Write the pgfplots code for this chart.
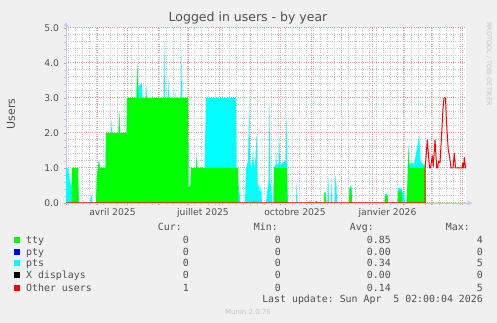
\documentclass[border=0pt]{standalone}
\usepackage{fontspec}
\setmainfont{DejaVu Sans}
\newfontfamily\mono{DejaVu Sans Mono}
\usepackage{pgfplots}
\pgfplotsset{compat=1.18}
\usetikzlibrary{arrows.meta}
\definecolor{bg}{HTML}{F0F0F0}
\definecolor{txt}{HTML}{505050}
\definecolor{faint}{HTML}{C4C4C4}
\definecolor{gridred}{HTML}{E89494}
\definecolor{gridgrey}{HTML}{C6C6C6}
\definecolor{axisblue}{HTML}{C0C8F0}
\definecolor{ttyc}{HTML}{00FF00}
\definecolor{ptyc}{HTML}{0000FF}
\definecolor{ptsc}{HTML}{00FFFF}
\definecolor{xc}{HTML}{000000}
\definecolor{otherc}{HTML}{FF0000}
\begin{document}
\begin{tikzpicture}
\useasboundingbox (0,0) rectangle (497pt,323pt);
\fill[bg] (0,0) rectangle (497pt,323pt);
\begin{axis}[
  at={(66pt,120pt)}, anchor=south west,
  scale only axis, width=400pt, height=175pt,
  xmin=0, xmax=400, ymin=0, ymax=5,
  axis lines=left,
  axis line style={draw=axisblue, line width=0.8pt, -{Stealth[length=5pt,width=5pt]}, shorten >=-6pt},
  axis background/.style={fill=white},
  xtick={0,31,61,92,122,153,184,214,245,275,306,337,365,396},
  xticklabels={},
  minor xtick={2,9,...,400},
  ytick={0,1,2,3,4,5},
  minor ytick={0.2,0.4,...,4.9},
  grid=both,
  major grid style={draw=gridred, line width=1pt, dash pattern=on 1pt off 1.2pt},
  minor grid style={draw=gridgrey, line width=1pt, dash pattern=on 1pt off 1.2pt},
  tick align=outside,
  major tick length=2.5pt, minor tick length=2pt,
  major tick style={draw=gridred, line width=0.8pt},
  minor tick style={draw=gridgrey, line width=0.7pt},
  extra x ticks={46.5,137,229,321.5},
  extra x tick labels={avril 2025,juillet 2025,octobre 2025,janvier 2026},
  extra x tick style={grid=none, major tick length=0pt, xticklabel style={yshift=-1.5pt}},
  /pgf/number format/assume math mode=true,
  yticklabel style={/pgf/number format/fixed, /pgf/number format/fixed zerofill, /pgf/number format/precision=1, xshift=-1pt},
  ticklabel style={font=\fontsize{9.2}{10}\selectfont, text=txt},
]
\addplot[draw=none, fill=ptsc] table {
0 1.0
2 1.0
3.5 0.7
5 0.5
5.5 0.5
6 1
12 1
12.5 0.4
13.5 0
17 0
17.3 0.1
17.7 0
24 0
25 0.2
26 0.2
26.5 0
30 0
31 0.8
33 1.25
34 1
39.5 1
40 2
45 2
45.7 2.4
46.3 2
52.5 2
53.3 2.6
54 2
60.5 2
61 3
70.5 3
71.3 4.0
72 3.3
74.5 3.4
76 3.4
76.5 3
80 3
80.7 3.35
81.3 3
97.5 3
98.3 4.72
99 3
101.5 3
102.3 3.58
103 3
108.5 3
109 3.3
109.5 3
115 3
115.7 4.35
116.5 3
122 3
122.5 0.45
124.5 0.5
125 1
130 1
130.7 1.42
131.3 1
138.5 1
140 3
170 3
170.5 1
172 1
172.5 0.5
173.5 0.3
174.5 0
179 0
180 1
182 1.2
183.3 3.0
184 1.2
185.5 1
186.5 1.3
187 1.56
188 1
189.5 1.3
190.7 2.0
191.5 0.5
193 0.5
194 0.3
195 0.5
196 0
200 0
201 0.3
202.5 0.6
203.7 2.91
204.5 0.6
205.5 0.3
206.5 0
207.5 0
208 1
209.5 1.1
210 1.6
210.7 1.1
212.7 1.1
213.3 1.94
214 1.1
219.5 1.2
220.7 2.56
221.3 0.6
222 0
230 0
230.7 0.61
231.3 0
243.5 0
244 0.1
244.5 0
249 0
249.5 0.05
251 0.05
251.5 0
258 0
258.5 0.3
259.5 0.3
260 0
261.5 0
262.3 0.75
263 0
265 0
265.7 0.75
266.3 0
268.5 0
269.5 0.8
270.5 0.5
271 0
275 0
275.5 0.05
276 0
283 0
283.5 0.45
284.5 0.5
285.5 0.45
286 0
318.5 0
319 0.25
321.5 0.25
322 0
326.5 0
327 0.15
327.5 0
331.5 0
332 0.43
335.5 0.43
336.5 0.3
338 0.3
339 0
340.5 0
341.5 0.6
342.5 1.66
343.3 1.1
346 1.15
348 1.1
353.3 1.94
354.5 1.2
357 1.1
359 1.1
359.3 0
400 0
} \closedcycle;
\addplot[draw=none, fill=ttyc] table {
0 0
5.5 0
6 1
12 1
12.5 0
18.5 0
19 0.05
19.5 0
30 0
31 0.8
33 1.2
34 1
39.5 1
40 2
52.5 2
53.3 2.6
54 2
60.5 2
61 3
70.5 3
71.3 4.0
72 3.2
72.5 3
122 3
122.5 0.45
124.5 0.5
125 1
130 1
130.7 1.3
131.3 1
172 1
172.5 0
187.5 0
188 0.15
188.5 0
207.5 0
208 1
221 1
221.5 0
243.5 0
244 0.1
244.5 0
249 0
249.5 0.05
251 0.05
251.5 0
258 0
258.5 0.3
259.5 0.3
260 0
261.5 0
262 0.12
262.5 0
275 0
275.5 0.05
276 0
283 0
283.5 0.42
285.5 0.42
286 0
318.5 0
319 0.2
321.5 0.2
322 0
331.5 0
332 0.33
335.5 0.33
336 0
340.5 0
341.5 0.6
342.5 1.6
343.3 1
359 1
359.3 0
400 0
} \closedcycle;
\addplot[draw=otherc, line width=1pt, line join=round] table {
0 0
359 0
359.2 1
361.3 1.8
363.5 1.0
364.5 1.0
366.3 1.35
367.3 1.05
369 1.8
370.7 1.0
371.5 1.0
372.5 1.19
374 1.15
375.5 1.9
377 2.7
378 3.0
379.5 3.0
380.5 2.3
382.3 1.5
383.5 1.35
385 1.0
387 1.0
388.3 1.42
389.5 1.0
396 1.0
396.7 1.13
397.5 1.0
398.3 1.3
399.5 1.0
400 1.0
};
\end{axis}
% title and labels
\node[anchor=base, font=\fontsize{12.5}{14}\selectfont, text=txt] at (248pt,301pt) {Logged in users - by year};
\node[rotate=90, font=\fontsize{11}{12}\selectfont, text=txt] at (11pt,209pt) {Users};
\node[rotate=-90, font=\fontsize{6.5}{7}\selectfont, text=faint] at (489pt,259pt) {RRDTOOL / TOBI OETIKER};
% legend
\begin{scope}[every node/.style={font=\mono\fontsize{9.9}{11}\selectfont, text=txt, inner sep=0pt}]
\node[anchor=base east] at (182pt,92.4pt) {Cur:};
\node[anchor=base east] at (278pt,92.4pt) {Min:};
\node[anchor=base east] at (374pt,92.4pt) {Avg:};
\node[anchor=base east] at (470pt,92.4pt) {Max:};
% rows
\fill[ttyc] (14pt,80pt) rectangle (20pt,86pt);
\node[anchor=base west] at (26pt,79.4pt) {tty};
\node[anchor=base east] at (189pt,79.4pt) {0};
\node[anchor=base east] at (281pt,79.4pt) {0};
\node[anchor=base east] at (391pt,79.4pt) {0.85};
\node[anchor=base east] at (483pt,79.4pt) {4};
\fill[ptyc] (14pt,68.3pt) rectangle (20pt,74.3pt);
\node[anchor=base west] at (26pt,67.7pt) {pty};
\node[anchor=base east] at (189pt,67.7pt) {0};
\node[anchor=base east] at (281pt,67.7pt) {0};
\node[anchor=base east] at (391pt,67.7pt) {0.00};
\node[anchor=base east] at (483pt,67.7pt) {0};
\fill[ptsc] (14pt,56.7pt) rectangle (20pt,62.7pt);
\node[anchor=base west] at (26pt,56.1pt) {pts};
\node[anchor=base east] at (189pt,56.1pt) {0};
\node[anchor=base east] at (281pt,56.1pt) {0};
\node[anchor=base east] at (391pt,56.1pt) {0.34};
\node[anchor=base east] at (483pt,56.1pt) {5};
\fill[xc] (14pt,44.7pt) rectangle (20pt,50.7pt);
\node[anchor=base west] at (26pt,44.1pt) {X displays};
\node[anchor=base east] at (189pt,44.1pt) {0};
\node[anchor=base east] at (281pt,44.1pt) {0};
\node[anchor=base east] at (391pt,44.1pt) {0.00};
\node[anchor=base east] at (483pt,44.1pt) {0};
\fill[otherc] (14pt,32.3pt) rectangle (20pt,38.3pt);
\node[anchor=base west] at (26pt,31.7pt) {Other users};
\node[anchor=base east] at (189pt,31.7pt) {1};
\node[anchor=base east] at (281pt,31.7pt) {0};
\node[anchor=base east] at (391pt,31.7pt) {0.14};
\node[anchor=base east] at (483pt,31.7pt) {5};
\node[anchor=base east] at (483pt,20.1pt) {Last update:\ Sun\ Apr\ \ 5\ 02:00:04\ 2026};
\end{scope}
\node[anchor=center, font=\fontsize{7}{8}\selectfont, text=faint] at (248pt,11.3pt) {Munin 2.0.76};
\end{tikzpicture}
\end{document}
